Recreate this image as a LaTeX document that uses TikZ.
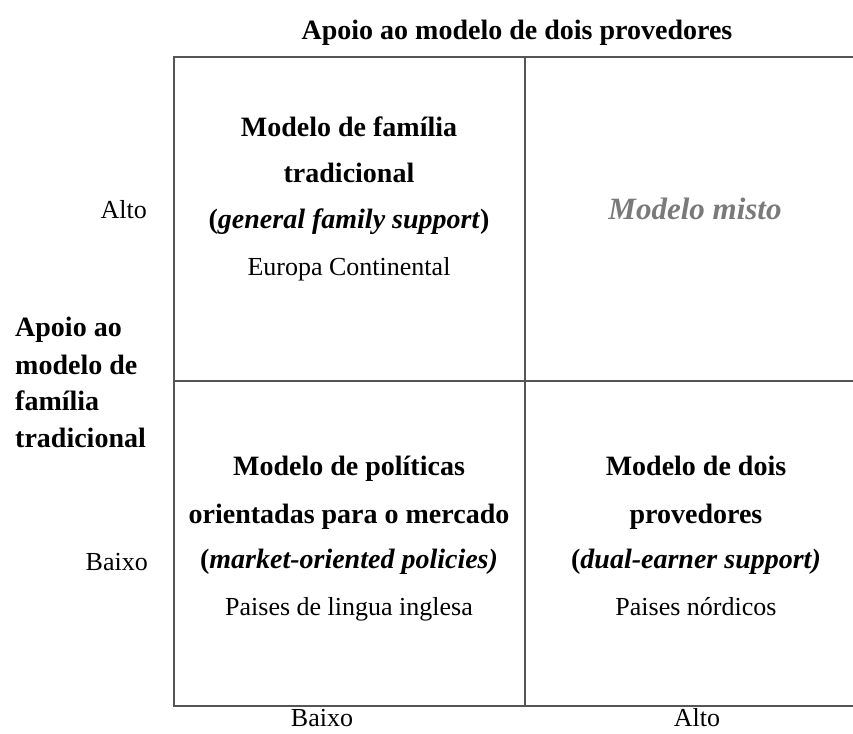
\documentclass[tikz,border=0pt]{standalone}
\usepackage{fontspec}
\setmainfont{Liberation Serif}
\usepackage{tikz}
\definecolor{grid}{HTML}{555555}
\definecolor{faded}{HTML}{7A7A7A}

\begin{document}
\begin{tikzpicture}[x=1pt,y=-1pt,
    every node/.style={anchor=base,inner sep=0pt},
    head/.style={font=\fontsize{28}{33}\selectfont\bfseries},
    plain/.style={font=\fontsize{26}{31}\selectfont},
    mixed/.style={font=\fontsize{31}{36}\selectfont\bfseries\itshape,text=faded}]
  \useasboundingbox (0,0) rectangle (853,733);

  \path
  (174,57) coordinate(tl)
  (853,57) coordinate(tr)
  (174,706) coordinate(bl)
  (853,706) coordinate(br)
  (525,57) coordinate(mt)
  (525,706) coordinate(mb)
  (174,381) coordinate(ml)
  (853,381) coordinate(mr)
  ;

  % quadrants
  \draw[grid,line width=2.2pt] (tr) -- (tl) -- (bl) -- (br);
  \draw[grid,line width=1.8pt] (mt) -- (mb);
  \draw[grid,line width=1.8pt] (ml) -- (mr);

  % axes
  \path
  (517,40) node[head](top) {Apoio ao modelo de dois provedores}
  (147,218) node[plain,anchor=base east](yhigh) {Alto}
  (148,570) node[plain,anchor=base east](ylow) {Baixo}
  (322,726) node[plain](xlow) {Baixo}
  (697,726) node[plain](xhigh) {Alto}
  (15,336) node[head,anchor=base west](side1) {Apoio ao}
  (15,374) node[head,anchor=base west](side2) {modelo de}
  (15,410) node[head,anchor=base west](side3) {família}
  (15,447) node[head,anchor=base west](side4) {tradicional}
  ;

  % top left
  \path
  (349,136) node[head](trad1) {Modelo de família}
  (349,182) node[head](trad2) {tradicional}
  (349,228) node[head](trad3) {(\textit{general family support})}
  (349,275) node[plain](trad4) {Europa Continental}
  ;

  % top right
  \path (695,219) node[mixed](misto) {Modelo misto};

  % bottom left
  \path
  (349,475) node[head](mkt1) {Modelo de políticas}
  (349,523) node[head](mkt2) {orientadas para o mercado}
  (349,568) node[head](mkt3) {(\textit{market-oriented policies)}}
  (349,615) node[plain](mkt4) {Paises de lingua inglesa}
  ;

  % bottom right
  \path
  (696,475) node[head](dual1) {Modelo de dois}
  (696,523) node[head](dual2) {provedores}
  (696,568) node[head](dual3) {(\textit{dual-earner support)}}
  (696,615) node[plain](dual4) {Paises nórdicos}
  ;
\end{tikzpicture}
\end{document}
